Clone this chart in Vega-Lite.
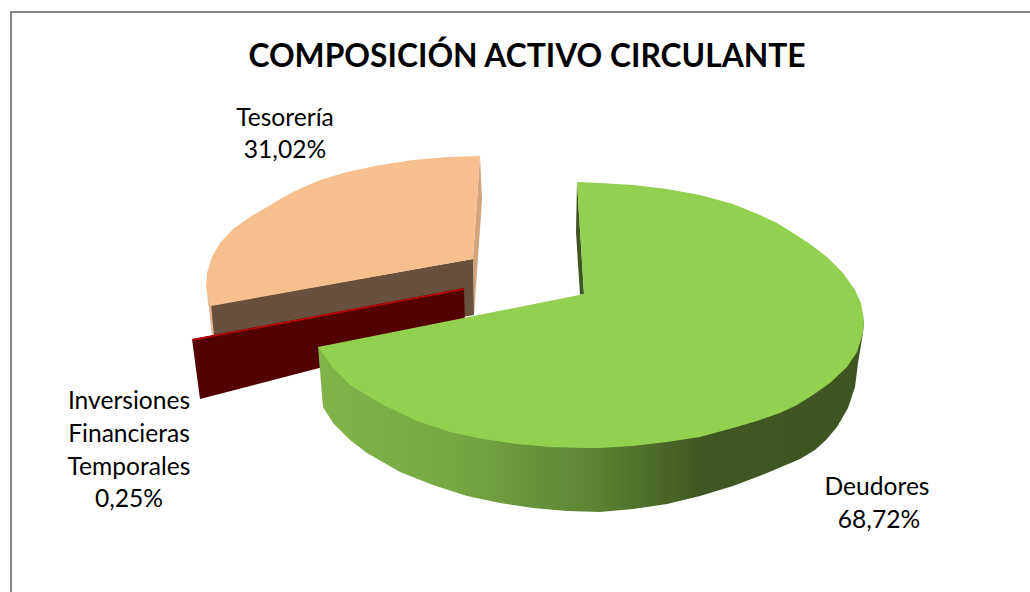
{"$schema":"https://vega.github.io/schema/vega-lite/v6.json","width":1030,"height":592,"padding":0,"autosize":"none","background":"white","view":{"stroke":null},
"datasets":{
"frame":[{"i":1,"x":11,"y":592},{"i":2,"x":11,"y":12},{"i":3,"x":1030,"y":12}],
"peachSide":[{"i":1,"x":480,"y":156},{"i":2,"x":482,"y":200},{"i":3,"x":474,"y":315},{"i":4,"x":473,"y":259}],
"brown":[{"i":1,"x":211,"y":305},{"i":2,"x":473,"y":259},{"i":3,"x":474,"y":315},{"i":4,"x":213,"y":360}],
"rim":[{"i":1,"x":207,"y":293},{"i":2,"x":211,"y":305},{"i":3,"x":214,"y":335},{"i":4,"x":212,"y":335}],
"peachTop":[{"i":1,"x":480,"y":156},{"i":2,"x":447,"y":157},{"i":3,"x":413,"y":160},{"i":4,"x":380,"y":165},{"i":5,"x":347,"y":172},{"i":6,"x":320,"y":180},{"i":7,"x":297,"y":190},{"i":8,"x":282,"y":198},{"i":9,"x":267,"y":207},{"i":10,"x":250,"y":217},{"i":11,"x":233,"y":229},{"i":12,"x":220,"y":243},{"i":13,"x":212,"y":257},{"i":14,"x":207,"y":273},{"i":15,"x":206,"y":287},{"i":16,"x":208,"y":297},{"i":17,"x":211,"y":306},{"i":18,"x":473,"y":259}],
"red":[{"i":1,"x":192,"y":339},{"i":2,"x":464,"y":288},{"i":3,"x":465,"y":330},{"i":4,"x":200,"y":399}],
"redEdge":[{"i":1,"x":192,"y":340},{"i":2,"x":464,"y":289}],
"greenSlit":[{"i":1,"x":577,"y":182},{"i":2,"x":584,"y":294},{"i":3,"x":580,"y":295},{"i":4,"x":576,"y":232}],
"greenSide":[{"i":1,"x":318,"y":347},{"i":2,"x":323,"y":407},{"i":3,"x":333,"y":423},{"i":4,"x":350,"y":440},{"i":5,"x":367,"y":453},{"i":6,"x":400,"y":472},{"i":7,"x":433,"y":485},{"i":8,"x":467,"y":496},{"i":9,"x":500,"y":503},{"i":10,"x":533,"y":508},{"i":11,"x":567,"y":511},{"i":12,"x":600,"y":512},{"i":13,"x":633,"y":509},{"i":14,"x":667,"y":504},{"i":15,"x":700,"y":496},{"i":16,"x":733,"y":486},{"i":17,"x":767,"y":473},{"i":18,"x":800,"y":459},{"i":19,"x":815,"y":450},{"i":20,"x":826,"y":440},{"i":21,"x":837,"y":427},{"i":22,"x":848,"y":408},{"i":23,"x":855,"y":387},{"i":24,"x":858,"y":363},{"i":25,"x":863,"y":333},{"i":26,"x":864,"y":320},{"i":27,"x":600,"y":350}],
"greenTop":[{"i":1,"x":577,"y":182},{"i":2,"x":600,"y":183},{"i":3,"x":633,"y":185},{"i":4,"x":667,"y":189},{"i":5,"x":700,"y":195},{"i":6,"x":733,"y":204},{"i":7,"x":760,"y":215},{"i":8,"x":777,"y":223},{"i":9,"x":793,"y":233},{"i":10,"x":810,"y":244},{"i":11,"x":827,"y":257},{"i":12,"x":843,"y":273},{"i":13,"x":855,"y":290},{"i":14,"x":861,"y":303},{"i":15,"x":864,"y":320},{"i":16,"x":863,"y":333},{"i":17,"x":857,"y":352},{"i":18,"x":847,"y":367},{"i":19,"x":830,"y":383},{"i":20,"x":813,"y":395},{"i":21,"x":797,"y":405},{"i":22,"x":780,"y":413},{"i":23,"x":757,"y":421},{"i":24,"x":733,"y":428},{"i":25,"x":700,"y":437},{"i":26,"x":667,"y":442},{"i":27,"x":633,"y":446},{"i":28,"x":600,"y":448},{"i":29,"x":583,"y":448},{"i":30,"x":550,"y":447},{"i":31,"x":517,"y":444},{"i":32,"x":483,"y":439},{"i":33,"x":450,"y":432},{"i":34,"x":417,"y":421},{"i":35,"x":383,"y":405},{"i":36,"x":350,"y":385},{"i":37,"x":333,"y":368},{"i":38,"x":318,"y":347},{"i":39,"x":584,"y":294}],
"labels":[{"t":"Tesorería","x":285,"y":119},{"t":"31,02%","x":285,"y":151},{"t":"Inversiones","x":129,"y":402},{"t":"Financieras","x":129,"y":435},{"t":"Temporales","x":129,"y":468},{"t":"0,25%","x":129,"y":500},{"t":"Deudores","x":877,"y":488},{"t":"68,72%","x":879,"y":521}],
"title":[{"t":"COMPOSICIÓN ACTIVO CIRCULANTE","x":527,"y":57}]
},
"encoding":{
"x":{"field":"x","type":"quantitative","scale":{"domain":[0,1030]},"axis":null},
"y":{"field":"y","type":"quantitative","scale":{"domain":[592,0]},"axis":null},
"order":{"field":"i","type":"quantitative"}
},
"layer":[
{"data":{"name":"frame"},"mark":{"type":"line","stroke":"#868686","strokeWidth":2,"clip":true}},
{"data":{"name":"peachSide"},"mark":{"type":"line","fill":"#D2A47E","stroke":null}},
{"data":{"name":"brown"},"mark":{"type":"line","fill":"#69503C","stroke":null}},
{"data":{"name":"rim"},"mark":{"type":"line","fill":"#E3B78F","stroke":null}},
{"data":{"name":"peachTop"},"mark":{"type":"line","fill":"#F6BF8E","stroke":null}},
{"data":{"name":"red"},"mark":{"type":"line","fill":"#520000","stroke":null}},
{"data":{"name":"redEdge"},"mark":{"type":"line","stroke":"#C00000","strokeWidth":1.5}},
{"data":{"name":"greenSlit"},"mark":{"type":"line","fill":"#3E5622","stroke":null}},
{"data":{"name":"greenSide"},"mark":{"type":"line","stroke":null,"fill":{"gradient":"linear","x1":0,"y1":0,"x2":1,"y2":0,"stops":[{"offset":0,"color":"#80B34A"},{"offset":0.25,"color":"#76A843"},{"offset":0.5,"color":"#5D8434"},{"offset":0.7,"color":"#3F5722"},{"offset":1,"color":"#3E5522"}]}}},
{"data":{"name":"greenTop"},"mark":{"type":"line","fill":"#92D050","stroke":null}},
{"data":{"name":"labels"},"mark":{"type":"text","font":"Lato","fontSize":24.6,"color":"#000","align":"center","baseline":"middle"},"encoding":{"text":{"field":"t"},"order":null}},
{"data":{"name":"title"},"mark":{"type":"text","font":"Lato","fontWeight":"bold","fontSize":31.8,"color":"#000","align":"center","baseline":"middle"},"encoding":{"text":{"field":"t"},"order":null}}
]}
